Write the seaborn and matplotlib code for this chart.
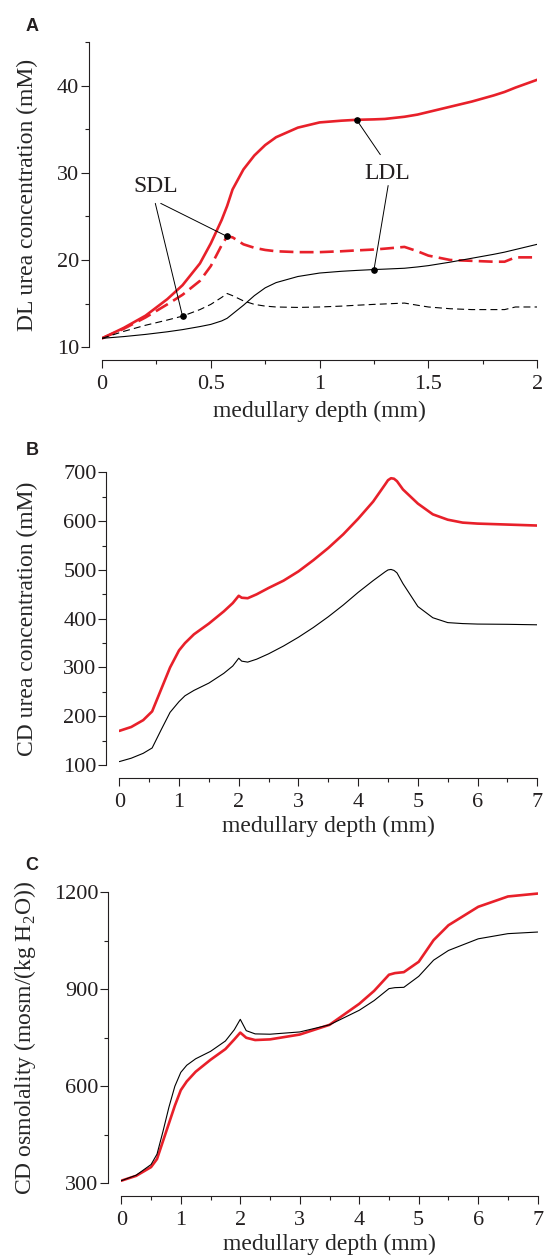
import numpy as np
import pandas as pd
import seaborn as sns
import matplotlib.pyplot as plt
from matplotlib.ticker import MultipleLocator

# panel A: descending limb urea (mM) vs depth (mm)
depth_a = [0, 0.1, 0.2, 0.3, 0.37, 0.45, 0.5, 0.55, 0.575, 0.6, 0.65, 0.7, 0.75, 0.8, 0.9,
           1.0, 1.1, 1.17, 1.25, 1.3, 1.39, 1.45, 1.5, 1.6, 1.7, 1.8, 1.85, 1.9, 2.0]
ldl_red = [11, 12.2, 13.6, 15.5, 17.1, 19.6, 21.9, 24.6, 26.2, 28.1, 30.4, 32.0, 33.2, 34.1, 35.2,
           35.8, 36.0, 36.1, 36.15, 36.2, 36.45, 36.7, 37.0, 37.6, 38.2, 38.9, 39.3, 39.8, 40.7]
sdl_red = [11, 12.1, 13.4, 14.9, 16.0, 17.6, 19.3, 21.7, 22.7, 22.6, 21.8, 21.4, 21.15, 21.0, 20.9,
           20.9, 21.0, 21.1, 21.2, 21.3, 21.5, 21.0, 20.5, 20.0, 19.9, 19.8, 19.8, 20.3, 20.3]
ldl_black = [11, 11.2, 11.45, 11.75, 12.0, 12.35, 12.6, 13.0, 13.3, 13.8, 14.8, 15.9, 16.8, 17.4, 18.1,
             18.5, 18.7, 18.8, 18.9, 18.95, 19.05, 19.2, 19.35, 19.75, 20.2, 20.65, 20.9, 21.2, 21.8]
sdl_black = [11, 11.8, 12.5, 13.1, 13.55, 14.3, 14.9, 15.7, 16.15, 15.9, 15.3, 14.9, 14.7, 14.6, 14.55,
             14.6, 14.7, 14.8, 14.9, 14.95, 15.05, 14.8, 14.6, 14.4, 14.3, 14.3, 14.3, 14.6, 14.6]

# panel B: CD urea (mM)
depth_b = [0, 0.2, 0.4, 0.55, 0.7, 0.85, 1.0, 1.1, 1.25, 1.5, 1.75, 1.9, 2.0, 2.05, 2.15, 2.3, 2.5,
           2.75, 3.0, 3.25, 3.5, 3.75, 4.0, 4.25, 4.45, 4.5, 4.55, 4.6, 4.65, 4.75, 5.0, 5.25, 5.5,
           5.75, 6.0, 6.5, 7.0]
cd_urea_red = [170, 178, 192, 210, 255, 300, 335, 350, 368, 390, 415, 432, 447, 443, 442, 450, 463,
               478, 497, 520, 545, 573, 605, 640, 675, 684, 688, 687, 682, 665, 636, 614, 603,
               597, 595, 593, 591]
cd_urea_black = [107, 114, 124, 135, 172, 208, 230, 242, 253, 268, 288, 303, 319, 313, 311, 317, 328,
                 344, 362, 382, 404, 428, 454, 478, 496, 500, 501, 499, 494, 472, 425, 402, 392,
                 390, 389, 388.5, 387.5]

# panel C: CD osmolality
depth_c = [0, 0.25, 0.5, 0.6, 0.7, 0.8, 0.9, 1.0, 1.1, 1.25, 1.5, 1.75, 1.9, 2.0, 2.1, 2.25, 2.5,
           3.0, 3.5, 4.0, 4.25, 4.5, 4.6, 4.75, 5.0, 5.25, 5.5, 6.0, 6.5, 7.0]
osm_black = [308, 325, 358, 390, 460, 535, 600, 643, 665, 685, 708, 740, 775, 807, 772, 762, 761,
             768, 790, 835, 865, 902, 905, 906, 940, 990, 1020, 1056, 1072, 1077]
osm_red = [308, 323, 350, 375, 430, 485, 540, 588, 615, 645, 682, 715, 745, 766, 750, 743, 745,
           760, 790, 855, 895, 945, 950, 953, 985, 1052, 1098, 1155, 1187, 1196]

RED = '#e8202a'
INK = '#231f20'

sns.set_style('ticks')
plt.rcParams['font.family'] = ['Liberation Serif', 'DejaVu Serif']
plt.rcParams['mathtext.fontset'] = 'custom'
plt.rcParams['mathtext.rm'] = 'Liberation Serif'
plt.rcParams['lines.scale_dashes'] = False
plt.rcParams['text.color'] = INK

fig = plt.figure(figsize=(5.44, 12.56), dpi=100)


def style(ax, xlim, ylim, xmaj, xmin, ymaj, ymin, ylabel, ylab_x):
    ax.set_xlim(*xlim)
    ax.set_ylim(*ylim)
    for side in ['top', 'right']:
        ax.spines[side].set_visible(False)
    ax.spines['left'].set_position(('outward', 9.3))
    ax.spines['bottom'].set_position(('outward', 9.5))
    ax.spines['left'].set_bounds(*ylim)
    ax.spines['bottom'].set_bounds(*xlim)
    for side in ['left', 'bottom']:
        ax.spines[side].set_linewidth(0.8)
        ax.spines[side].set_color(INK)
    ax.xaxis.set_major_locator(MultipleLocator(xmaj))
    ax.xaxis.set_minor_locator(MultipleLocator(xmin))
    ax.yaxis.set_major_locator(MultipleLocator(ymaj))
    ax.yaxis.set_minor_locator(MultipleLocator(ymin))
    ax.tick_params(which='major', length=5.5, width=0.8, color=INK, labelsize=16, labelcolor=INK)
    ax.tick_params(which='minor', length=2.8, width=0.8, color=INK)
    ax.tick_params(axis='y', which='major', pad=1.5)
    ax.tick_params(axis='x', which='major', pad=5)
    ax.set_xlabel('medullary depth (mm)', fontsize=17)
    ax.set_ylabel(ylabel, fontsize=17)
    ax.xaxis.set_label_coords(0.5, -0.175)
    ax.yaxis.set_label_coords(ylab_x, 0.5)


# ---- A
ax = fig.add_axes([0.1875, 0.7237, 0.80, 0.2426])
sns.lineplot(x=depth_a, y=ldl_red, ax=ax, color=RED, lw=1.9, errorbar=None, sort=False)
sns.lineplot(x=depth_a, y=sdl_red, ax=ax, color=RED, lw=1.9, errorbar=None, sort=False)
ax.lines[-1].set_dashes((10, 4.5))
sns.lineplot(x=depth_a, y=ldl_black, ax=ax, color='k', lw=0.8, errorbar=None, sort=False)
sns.lineplot(x=depth_a, y=sdl_black, ax=ax, color='k', lw=0.8, errorbar=None, sort=False)
ax.lines[-1].set_dashes((5, 3))
style(ax, (0, 2), (10, 45), 0.5, 0.25, 10, 5, 'DL urea concentration (mM)', -0.147)
ax.set_xticks([0, 0.5, 1, 1.5, 2])
ax.set_xticklabels(['0', '0.5', '1', '1.5', '2'])

# points marked on the curves
sdl_pts = [(0.37, np.interp(0.37, depth_a, sdl_black)), (0.575, np.interp(0.575, depth_a, sdl_red))]
ldl_pts = [(1.17, np.interp(1.17, depth_a, ldl_red)), (1.25, np.interp(1.25, depth_a, ldl_black))]
line_kw = dict(arrowstyle='-', color='k', lw=0.7, shrinkA=0, shrinkB=0)
ax.annotate('', xy=sdl_pts[0], xytext=(0.245, 26.5), arrowprops=line_kw)
ax.annotate('', xy=sdl_pts[1], xytext=(0.27, 26.5), arrowprops=line_kw)
ax.annotate('', xy=ldl_pts[0], xytext=(1.279, 32.1), arrowprops=line_kw)
ax.annotate('', xy=ldl_pts[1], xytext=(1.315, 28.55), arrowprops=line_kw)
for px, py in sdl_pts + ldl_pts:
    ax.plot(px, py, 'o', color='k', ms=3.8, zorder=6)
ax.text(0.245, 28.4, 'SDL', ha='center', va='center', fontsize=17)
ax.text(1.312, 29.95, 'LDL', ha='center', va='center', fontsize=17)

# ---- B
ax = fig.add_axes([0.2193, 0.3909, 0.7684, 0.2330])
sns.lineplot(x=depth_b, y=cd_urea_red, ax=ax, color=RED, lw=1.9, errorbar=None, sort=False)
sns.lineplot(x=depth_b, y=cd_urea_black, ax=ax, color='k', lw=0.8, errorbar=None, sort=False)
style(ax, (0, 7), (100, 700), 1, 0.5, 100, 50, 'CD urea concentration (mM)', -0.194)

# ---- C
ax = fig.add_axes([0.2230, 0.0579, 0.7654, 0.2317])
sns.lineplot(x=depth_c, y=osm_red, ax=ax, color=RED, lw=1.9, errorbar=None, sort=False)
sns.lineplot(x=depth_c, y=osm_black, ax=ax, color='k', lw=0.8, errorbar=None, sort=False)
style(ax, (0, 7), (300, 1200), 1, 0.5, 300, 150,
      r'CD osmolality (mosm/(kg H$_\mathrm{2}$O))', -0.2)

for label, yf in [('A', 0.979), ('B', 0.6417), ('C', 0.3113)]:
    fig.text(0.059, yf, label, family='Liberation Sans', weight='bold', fontsize=13,
             ha='center', va='center', color=INK)

fig.savefig('out.png', dpi=100)
